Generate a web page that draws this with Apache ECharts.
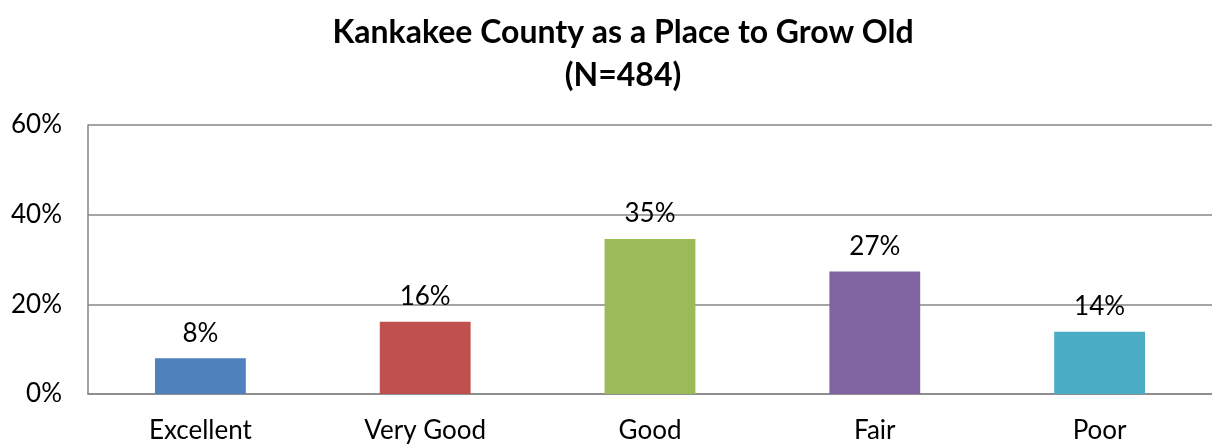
<!DOCTYPE html>
<html><head><meta charset="utf-8">
<script src="https://cdn.jsdelivr.net/npm/echarts@6/dist/echarts.min.js"></script>
<style>html,body{margin:0;padding:0;background:#fff}#c{width:1212px;height:445px}</style>
</head><body><div id="c"></div>
<script>
const categories = ["Excellent", "Very Good", "Good", "Fair", "Poor"];
const values = [8.0, 16.1, 34.6, 27.3, 13.9];
const colors = ["#4F81BD", "#C0504D", "#9BBB59", "#8064A2", "#4BACC6"];
const yTicks = [0, 20, 40, 60];

const chart = echarts.init(document.getElementById('c'));
chart.setOption({
  animation: false,
  title: {
    text: "Kankakee County as a Place to Grow Old\n(N=484)",
    left: 618, top: 6, textAlign: 'center',
    textStyle: { fontFamily: 'Lato', fontWeight: 'bold', fontSize: 32, color: '#000', lineHeight: 43 }
  },
  grid: { left: 88, right: 0, top: 125, bottom: 51, containLabel: false },
  xAxis: {
    type: 'category', data: categories,
    axisLine: { lineStyle: { color: '#868686', width: 1.5 } },
    axisTick: { show: false },
    axisLabel: { fontFamily: 'Lato', fontSize: 26, color: '#000', margin: 24 }
  },
  yAxis: {
    type: 'value', min: yTicks[0], max: yTicks[yTicks.length - 1], interval: 20,
    axisLine: { show: true, lineStyle: { color: '#868686', width: 1.5 } },
    axisTick: { show: false },
    splitLine: { lineStyle: { color: '#868686', width: 1.5 } },
    axisLabel: { fontFamily: 'Lato', fontSize: 26, color: '#000', margin: 26, formatter: v => v + '%' }
  },
  series: [{
    type: 'bar', barWidth: '40.4%',
    data: values.map((v, i) => ({ value: v, itemStyle: { color: colors[i] } })),
    label: { show: true, position: 'top', distance: 12, fontFamily: 'Lato', fontSize: 26, color: '#000',
      formatter: p => Math.round(p.value) + '%' }
  }]
});
</script></body></html>
